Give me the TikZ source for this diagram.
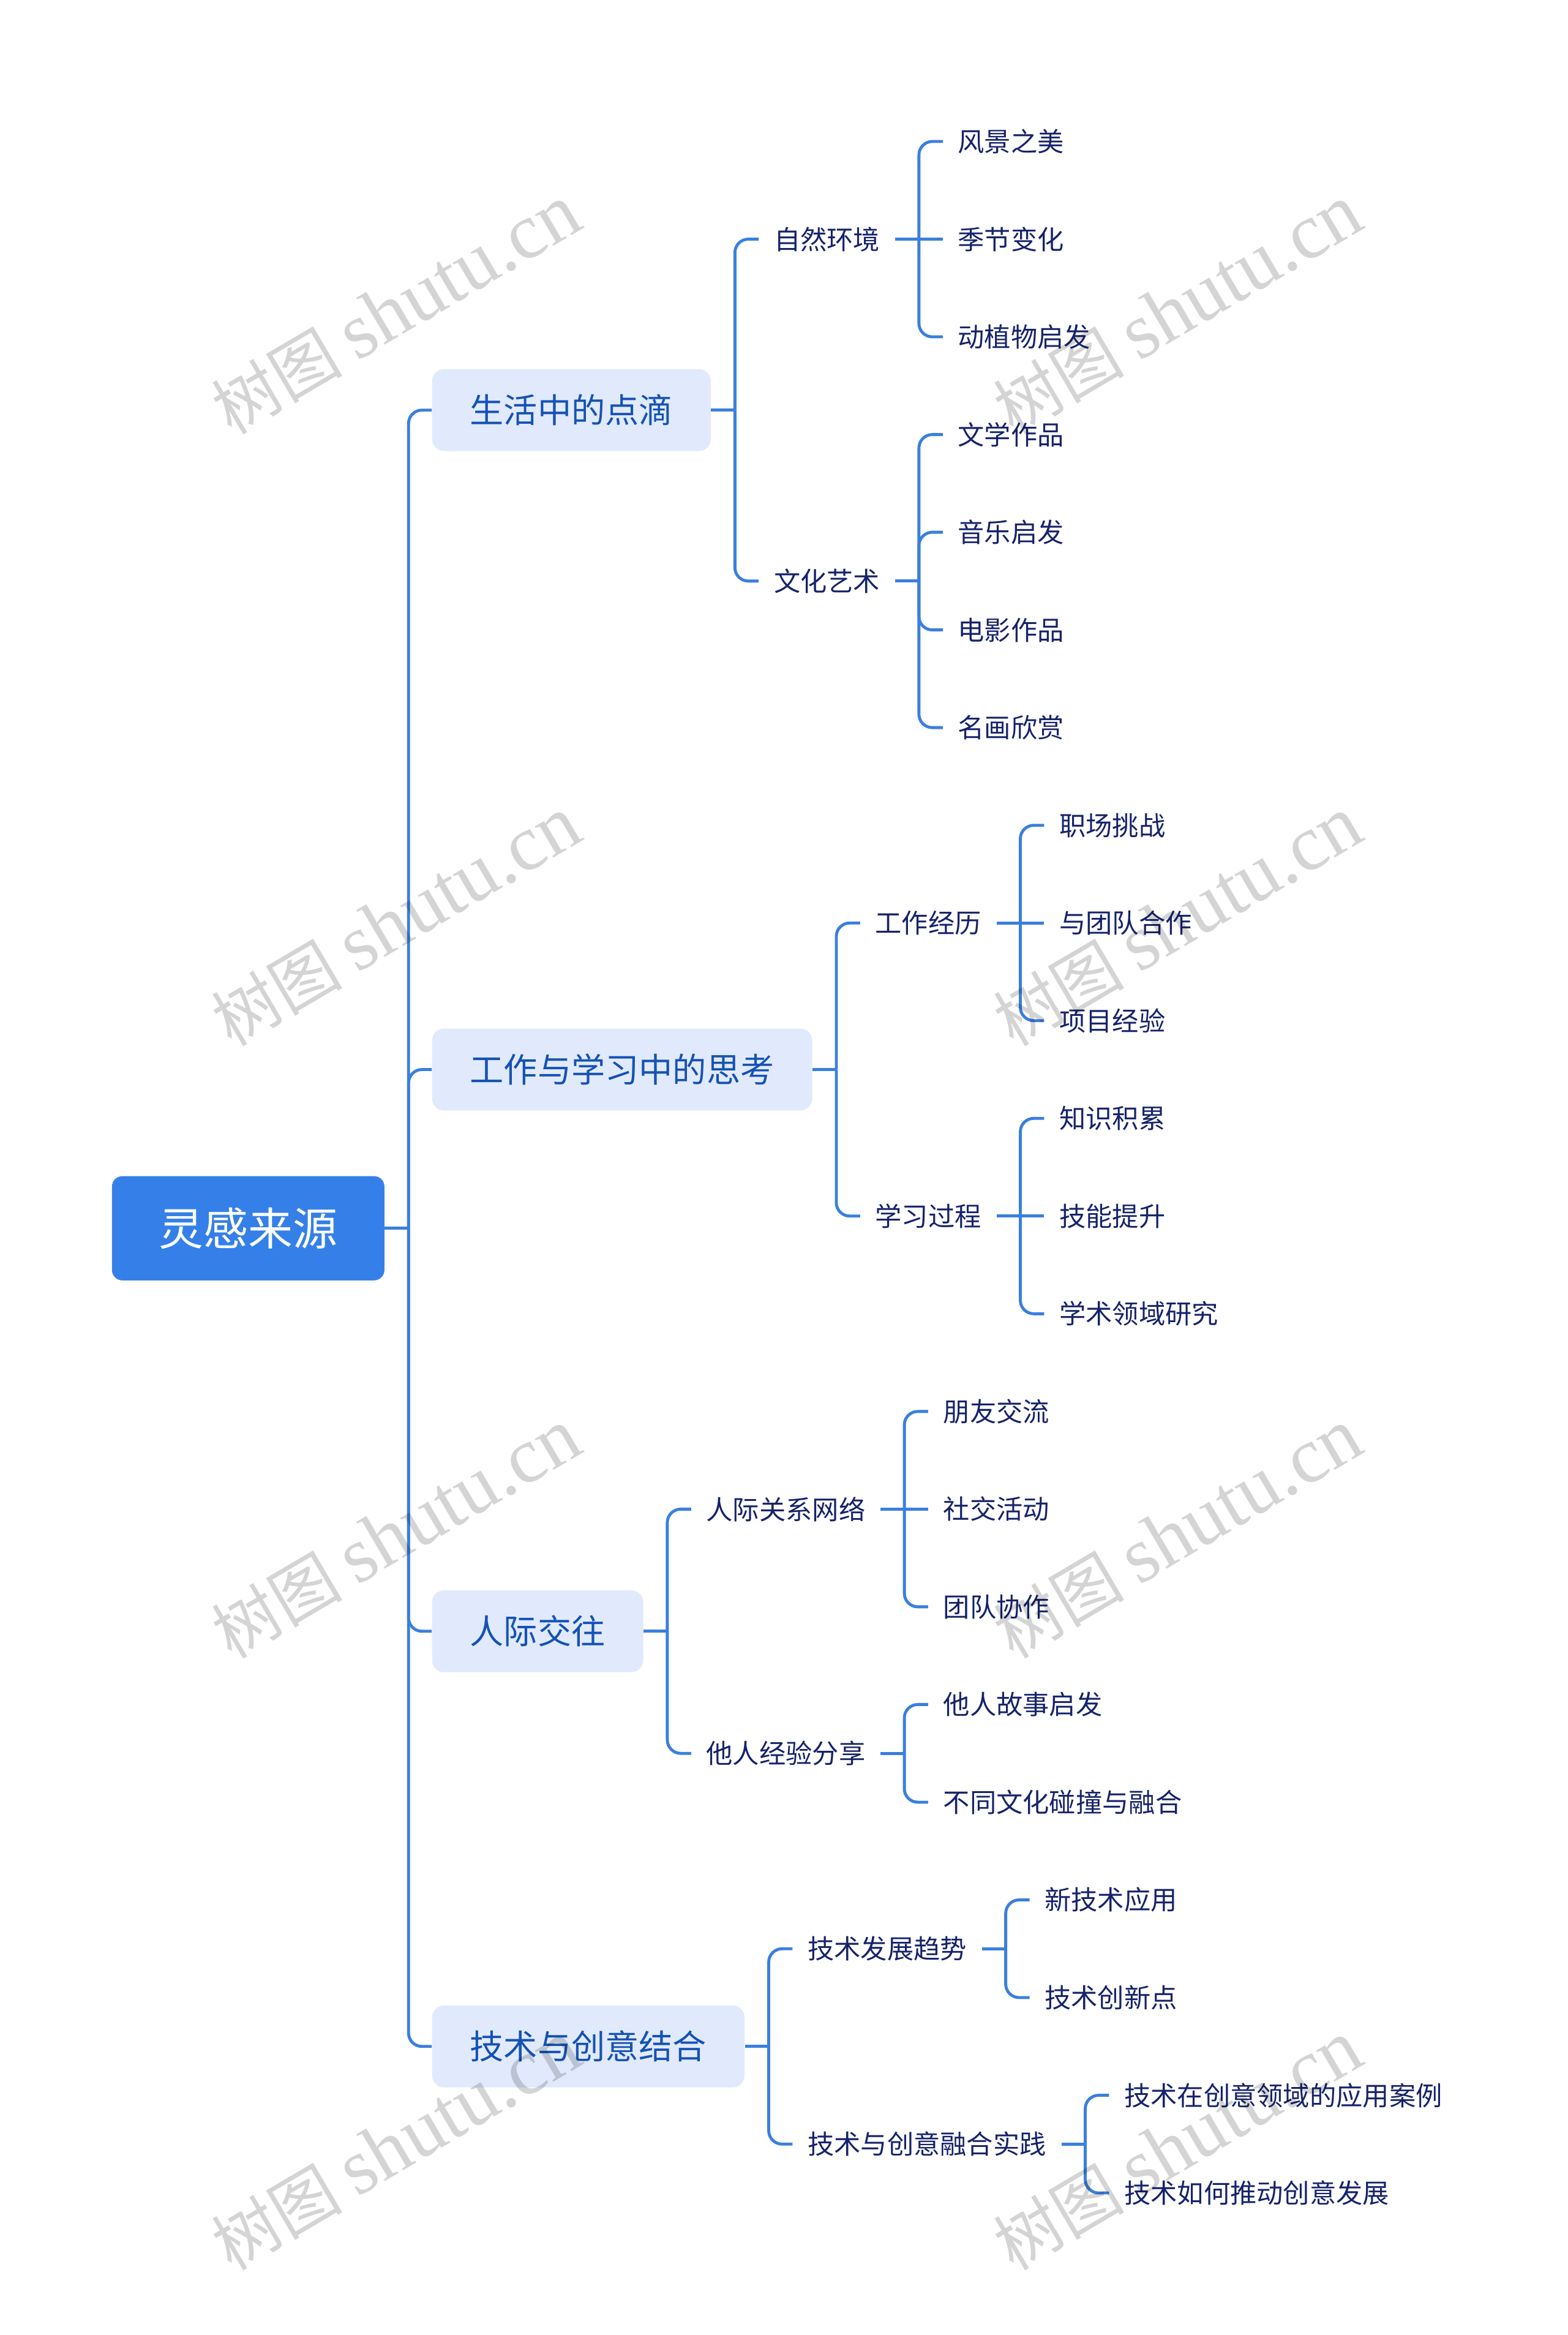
\documentclass[tikz,border=0pt]{standalone}
\usepackage{fontspec}
\setmainfont{Noto Sans CJK SC}
\newfontfamily\wmcjk{Noto Sans CJK SC}
\newfontfamily\wmserif{Liberation Serif}
\usetikzlibrary{calc}
\definecolor{rootblue}{HTML}{3580E8}
\definecolor{lvlfill}{HTML}{E1EAFC}
\definecolor{lvltext}{HTML}{1552B5}
\definecolor{leaftext}{HTML}{16236B}
\definecolor{linec}{HTML}{3A7FDF}
\newcommand{\fanout}[2]{%
  \coordinate (J#1) at ($(#1.east)+(16,0)$);
  \draw[conn] (#1.east) -- (J#1);
  \foreach \c in {#2} {\draw[conn] (J#1) |- (\c.west);}%
}
\newcommand{\straight}[2]{\draw[conn] (J#1) -- (#2.west);}
\begin{document}
\begin{tikzpicture}[x=1pt,y=-1pt,
  rootnode/.style={fill=rootblue, text=white, rounded corners=7, font=\fontsize{30}{36}\selectfont, minimum height=70, inner xsep=31.5, inner ysep=0, anchor=west},
  lvone/.style={fill=lvlfill, text=lvltext, rounded corners=8, font=\fontsize{22.7}{27}\selectfont, minimum height=55, inner xsep=25.5, inner ysep=0, anchor=west},
  lvtwo/.style={text=leaftext, font=\fontsize{17.8}{21}\selectfont, inner xsep=10, inner ysep=4, anchor=west},
  conn/.style={draw=linec, line width=2, rounded corners=9},
  wm/.style={text=black, text opacity=0.17, rotate=30.5, inner sep=0}
]
\useasboundingbox (0,0) rectangle (1053,1568);
\fill[white] (0,0) rectangle (1053,1568);

% root and level one
\node[rootnode] (root) at (75,824.8) {灵感来源};
\node[lvone] (p1) at (290,275.4) {生活中的点滴};
\node[lvone] (p2) at (290,718.2) {工作与学习中的思考};
\node[lvone] (p3) at (290,1095.4) {人际交往};
\node[lvone] (p4) at (290,1374.2) {技术与创意结合};

% level two
\coordinate (k1) at ($(p1.east)+(32,0)$);
\node[lvtwo] (q11) at (k1 |- 0,160.6) {自然环境};
\node[lvtwo] (q12) at (k1 |- 0,390.2) {文化艺术};
\coordinate (k2) at ($(p2.east)+(32,0)$);
\node[lvtwo] (q21) at (k2 |- 0,619.8) {工作经历};
\node[lvtwo] (q22) at (k2 |- 0,816.6) {学习过程};
\coordinate (k3) at ($(p3.east)+(32,0)$);
\node[lvtwo] (q31) at (k3 |- 0,1013.4) {人际关系网络};
\node[lvtwo] (q32) at (k3 |- 0,1177.4) {他人经验分享};
\coordinate (k4) at ($(p4.east)+(32,0)$);
\node[lvtwo] (q41) at (k4 |- 0,1308.6) {技术发展趋势};
\node[lvtwo] (q42) at (k4 |- 0,1439.8) {技术与创意融合实践};

% leaves
\coordinate (m11) at ($(q11.east)+(32,0)$);
\node[lvtwo] (l0) at (m11 |- 0,95) {风景之美};
\node[lvtwo] (l1) at (m11 |- 0,160.6) {季节变化};
\node[lvtwo] (l2) at (m11 |- 0,226.2) {动植物启发};
\coordinate (m12) at ($(q12.east)+(32,0)$);
\node[lvtwo] (l3) at (m12 |- 0,291.8) {文学作品};
\node[lvtwo] (l4) at (m12 |- 0,357.4) {音乐启发};
\node[lvtwo] (l5) at (m12 |- 0,423) {电影作品};
\node[lvtwo] (l6) at (m12 |- 0,488.6) {名画欣赏};
\coordinate (m21) at ($(q21.east)+(32,0)$);
\node[lvtwo] (l7) at (m21 |- 0,554.2) {职场挑战};
\node[lvtwo] (l8) at (m21 |- 0,619.8) {与团队合作};
\node[lvtwo] (l9) at (m21 |- 0,685.4) {项目经验};
\coordinate (m22) at ($(q22.east)+(32,0)$);
\node[lvtwo] (l10) at (m22 |- 0,751) {知识积累};
\node[lvtwo] (l11) at (m22 |- 0,816.6) {技能提升};
\node[lvtwo] (l12) at (m22 |- 0,882.2) {学术领域研究};
\coordinate (m31) at ($(q31.east)+(32,0)$);
\node[lvtwo] (l13) at (m31 |- 0,947.8) {朋友交流};
\node[lvtwo] (l14) at (m31 |- 0,1013.4) {社交活动};
\node[lvtwo] (l15) at (m31 |- 0,1079) {团队协作};
\coordinate (m32) at ($(q32.east)+(32,0)$);
\node[lvtwo] (l16) at (m32 |- 0,1144.6) {他人故事启发};
\node[lvtwo] (l17) at (m32 |- 0,1210.2) {不同文化碰撞与融合};
\coordinate (m41) at ($(q41.east)+(32,0)$);
\node[lvtwo] (l18) at (m41 |- 0,1275.8) {新技术应用};
\node[lvtwo] (l19) at (m41 |- 0,1341.4) {技术创新点};
\coordinate (m42) at ($(q42.east)+(32,0)$);
\node[lvtwo] (l20) at (m42 |- 0,1407) {技术在创意领域的应用案例};
\node[lvtwo] (l21) at (m42 |- 0,1472.6) {技术如何推动创意发展};

% connectors
\fanout{root}{p1,p2,p3,p4}
\fanout{p1}{q11,q12}
\fanout{p2}{q21,q22}
\fanout{p3}{q31,q32}
\fanout{p4}{q41,q42}
\fanout{q11}{l0,l2}\straight{q11}{l1}
\fanout{q12}{l3,l4,l5,l6}
\fanout{q21}{l7,l9}\straight{q21}{l8}
\fanout{q22}{l10,l12}\straight{q22}{l11}
\fanout{q31}{l13,l15}\straight{q31}{l14}
\fanout{q32}{l16,l17}
\fanout{q41}{l18,l19}
\fanout{q42}{l20,l21}

% watermarks
\foreach \wx/\wy [count=\i] in {266/208,791/208,266/619,791/619,266/1030,791/1030,266/1441,791/1441}
  \node[wm] (wm\i) at (\wx,\wy) {\fontsize{44}{50}\selectfont\wmcjk 树图 \fontsize{53}{58}\selectfont\wmserif shutu.cn};
\end{tikzpicture}
\end{document}
